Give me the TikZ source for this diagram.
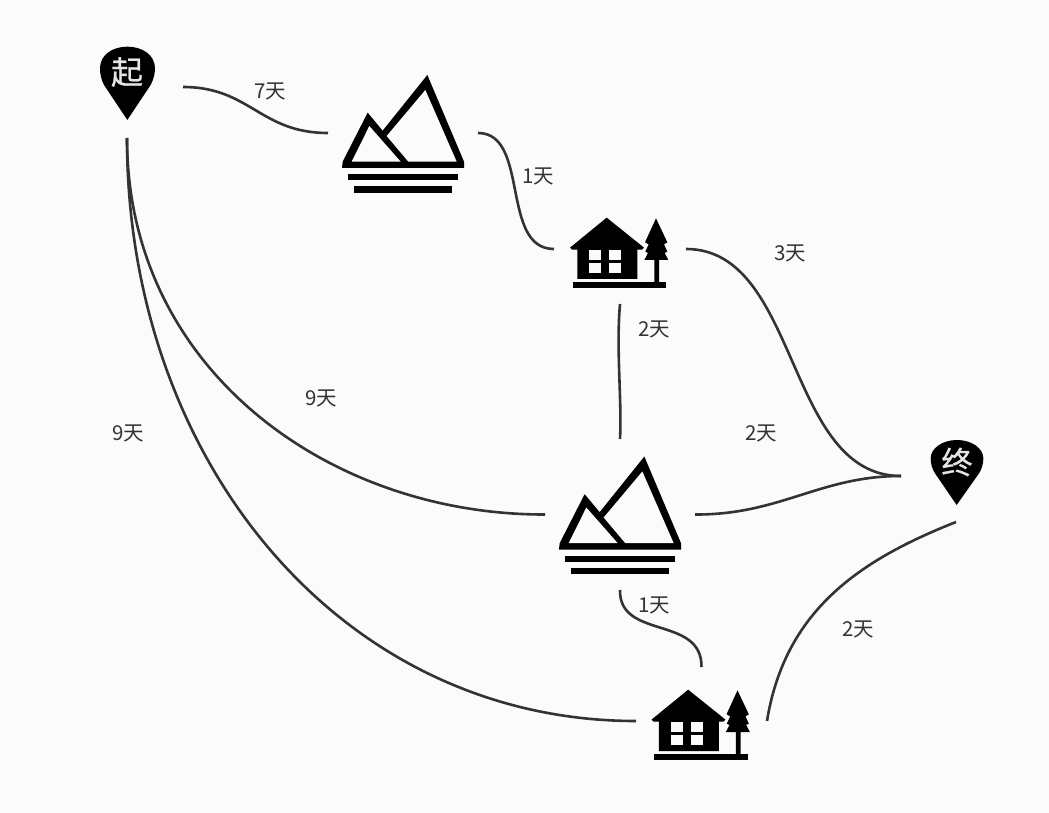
\documentclass[tikz,border=0pt]{standalone}
\usepackage{fontspec}
\setmainfont{Noto Sans CJK SC}
\newfontfamily\pinfont[FakeBold=0.8]{Noto Sans CJK SC}
\definecolor{bgc}{HTML}{FBFBFB}
\definecolor{ink}{HTML}{333333}
\tikzset{
  hub/.style n args={2}{minimum width=#1,minimum height=#2,inner sep=0pt,outer sep=0pt},
  link/.style={draw=ink,line width=2.6pt},
  days/.style={text=ink,inner sep=0pt,font=\fontsize{20.5}{24}\selectfont},
  pintext/.style={text=white!90!black,inner sep=0pt},
  pics/mountain/.style={code={
    \begin{scope}[shift={(-73,-73)},scale=1/3]
      \fill[black] (38,305)--(113,158)--(158,212)--(292,45)--(402,305)--(402,324)--(36,324)--cycle;
      \fill[bgc] (65,305)--(118,198)--(212,305)--cycle;
      \fill[bgc] (170,228)--(286,90)--(380,305)--(235,305)--cycle;
      \fill[black] (53,342) rectangle (384,360);
      \fill[black] (72,378) rectangle (366,398);
    \end{scope}
  }},
  pics/house/.style={code={
    \begin{scope}[shift={(-60,-44)},scale=1/3]
      \fill[black] (140,38)--(252,128)--(246,134)--(232,134)--(232,222)--(52,222)--(52,134)--(36,134)--(30,128)--cycle;
      \fill[bgc] (88,135) rectangle (123,165);
      \fill[bgc] (147,135) rectangle (183,165);
      \fill[bgc] (88,175) rectangle (123,203);
      \fill[bgc] (147,175) rectangle (183,203);
      \fill[black] (38,230) rectangle (318,250);
      \fill[black] (288,40)--(322,112)--(312,118)--(322,140)--(314,144)--(325,165)--(297,165)--(297,232)--(283,232)--(283,165)--(253,165)--(264,144)--(256,140)--(266,118)--(255,112)--cycle;
    \end{scope}
  }},
}
\begin{document}
\begin{tikzpicture}[x=1pt,y=-1pt]
\fill[bgc] (0,0) rectangle (1049,813);
\useasboundingbox (0,0) rectangle (1049,813);
\node[hub={112pt}{102pt}] (s) at (127,87) {};
\node[hub={150pt}{120pt}] (m1) at (403,133) {};
\node[hub={132pt}{110pt}] (h1) at (620,249) {};
\node[hub={150pt}{151pt}] (m2) at (620,514.5) {};
\node[hub={131pt}{108pt}] (h2) at (701.5,721) {};
\node[hub={110pt}{92pt}] (e) at (956,476) {};
\begin{scope}[shift={(80,30)},scale=1/3]
  \fill[black] (142,270)--(72,165) .. controls (64,150) and (60,132) .. (60,115) .. controls (60,75) and (97,50) .. (142,50) .. controls (187,50) and (225,75) .. (225,115) .. controls (225,132) and (220,150) .. (212,165)--cycle;
\end{scope}
\begin{scope}[shift={(920,430)},scale=1/3]
  \fill[black] (110,225)--(45,130) .. controls (37,118) and (32,102) .. (32,85) .. controls (32,55) and (67,30) .. (111,30) .. controls (155,30) and (190,55) .. (190,85) .. controls (190,102) and (185,118) .. (177,130)--cycle;
\end{scope}
\node[pintext,font=\fontsize{32}{36}\pinfont] (st) at (127,72) {起};
\node[pintext,font=\fontsize{31}{36}\pinfont] (et) at (957,462) {终};
\pic (im1) at (m1) {mountain};
\pic (im2) at (m2) {mountain};
\pic (ih1) at (h1) {house};
\pic (ih2) at (h2) {house};
\draw[link] (s.east) .. controls (250,87) and (260,133) .. (m1.west);
\draw[link] (m1.east) .. controls (530,133) and (500,249) .. (h1.west);
\draw[link] (h1.east) .. controls (800,249) and (785,476) .. (e.west);
\draw[link] (h1.south) .. controls (616,350) and (622,400) .. (m2.north);
\draw[link] (s.south) .. controls (127,370) and (330,515) .. (m2.west);
\draw[link] (s.south) .. controls (127,460) and (340,721) .. (h2.west);
\draw[link] (m2.east) .. controls (780,515) and (820,476) .. (e.west);
\draw[link] (m2.south) .. controls (619,640) and (702,615) .. (h2.north);
\draw[link] (h2.east) .. controls (785,610) and (860,560) .. (e.south);
\node[days] (d1) at (270.5,91) {7天};
\node[days] (d2) at (538.5,176) {1天};
\node[days] (d3) at (790.5,253) {3天};
\node[days] (d4) at (654.5,329) {2天};
\node[days] (d5) at (321,398) {9天};
\node[days] (d6) at (761.5,433) {2天};
\node[days] (d7) at (128.5,433) {9天};
\node[days] (d8) at (654.5,605) {1天};
\node[days] (d9) at (858.5,629) {2天};
\end{tikzpicture}
\end{document}
